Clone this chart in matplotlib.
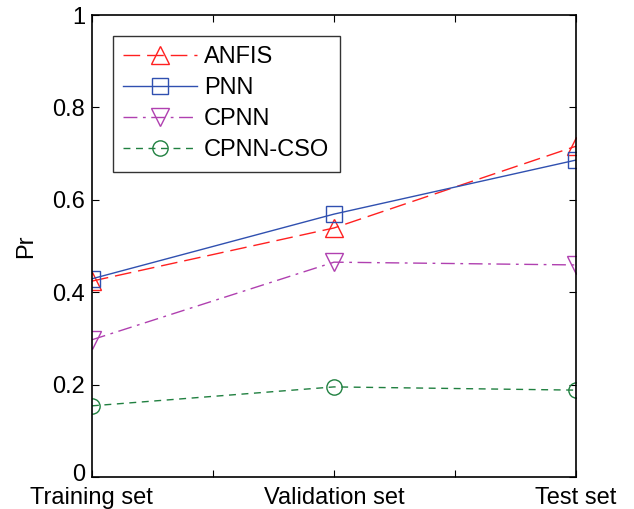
import matplotlib
matplotlib.use("Agg")
import matplotlib.pyplot as plt
import matplotlib.transforms as mtransforms

plt.rcParams['font.family'] = ['Liberation Sans', 'DejaVu Sans']

categories = ["Training set", "Validation set", "Test set"]
x_pos = [1, 2, 3]
anfis = [0.424, 0.539, 0.716]
pnn = [0.429, 0.569, 0.686]
cpnn = [0.297, 0.465, 0.459]
cpnn_cso = [0.154, 0.195, 0.188]

fig = plt.figure(figsize=(6.34, 5.09), dpi=100)
ax = fig.add_axes([0.145, 0.0629, 0.7635, 0.9076])

ax.plot(x_pos, anfis, color='#ff2020', linestyle=(0, (12, 5)), linewidth=1.0,
        marker='^', markersize=13, markerfacecolor='none', markeredgecolor='#ff2020', label='ANFIS')
ax.plot(x_pos, pnn, color='#3050b0', linestyle='-', linewidth=1.0,
        marker='s', markersize=11, markerfacecolor='none', markeredgecolor='#3050b0', label='PNN')
ax.plot(x_pos, cpnn, color='#b040b0', linestyle=(0, (10, 4, 2, 4)), linewidth=1.0,
        marker='v', markersize=13, markerfacecolor='none', markeredgecolor='#b040b0', label='CPNN')
ax.plot(x_pos, cpnn_cso, color='#208040', linestyle=(0, (5, 4)), linewidth=1.0,
        marker='o', markersize=11, markerfacecolor='none', markeredgecolor='#208040', label='CPNN-CSO')

ax.set_xlim(1, 3)
ax.set_ylim(0, 1)
ax.set_xticks([1, 1.5, 2, 2.5, 3])
ax.set_xticklabels([categories[0], "", categories[1], "", categories[2]])
ax.set_yticks([0, 0.2, 0.4, 0.6, 0.8, 1.0])
ax.set_yticklabels(["0", "0.2", "0.4", "0.6", "0.8", "1"])
ax.tick_params(direction='in', top=True, right=True, labelsize=17, length=5, width=0.8)
ax.tick_params(axis='x', pad=7)
ax.tick_params(axis='y', pad=5)
for s in ax.spines.values():
    s.set_linewidth(1.2)
ax.set_ylabel("Pr", fontsize=17, labelpad=11)

# nudge the "0" y-tick label up slightly, as in the reference
zero_lbl = ax.get_yticklabels()[0]
zero_lbl.set_transform(zero_lbl.get_transform() +
                       mtransforms.ScaledTranslation(0, 3 / 72, fig.dpi_scale_trans))

leg = ax.legend(loc='upper left', bbox_to_anchor=(0.043, 0.955), borderaxespad=0,
                fontsize=17, frameon=True,
                fancybox=False, edgecolor='black', handlelength=3.1, borderpad=0.45,
                labelspacing=0.38, handletextpad=0.3)
leg.get_frame().set_linewidth(1.0)

fig.savefig("out.png", dpi=100)
